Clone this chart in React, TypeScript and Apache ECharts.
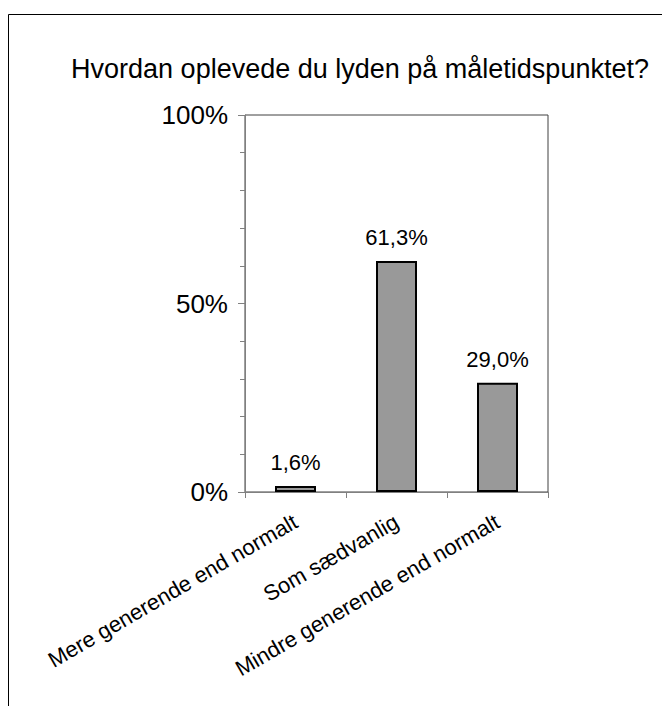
import React, { useEffect, useRef } from "react";
import * as echarts from "echarts";

const titleText = "Hvordan oplevede du lyden på måletidspunktet?";
const categories = ["Mere generende end normalt", "Som sædvanlig", "Mindre generende end normalt"];
const values = [1.6, 61.3, 29.0];
const yTicks = [0, 50, 100];

const FONT = "'Liberation Sans', Arial, sans-serif";

export default function App() {
  const ref = useRef<HTMLDivElement>(null);
  useEffect(() => {
    if (!ref.current) return;
    const chart = echarts.init(ref.current, null, { renderer: "svg" });
    chart.setOption({
      animation: false,
      backgroundColor: "#ffffff",
      textStyle: { fontFamily: FONT },
      title: {
        text: titleText,
        left: 355,
        top: 50,
        textAlign: "center",
        textStyle: { fontFamily: FONT, fontSize: 27, fontWeight: "normal", color: "#000" },
      },
      graphic: [
        {
          type: "rect",
          shape: { x: 8.5, y: 14.5, width: 800, height: 900 },
          style: { fill: "none", stroke: "#000", lineWidth: 1 },
          silent: true,
        },
      ],
      grid: {
        left: 245,
        right: 114,
        top: 115,
        bottom: 214,
        show: true,
        borderColor: "#404040",
        borderWidth: 1,
        backgroundColor: "transparent",
      },
      xAxis: {
        type: "category",
        data: categories,
        axisLine: { lineStyle: { color: "#808080", width: 1 } },
        axisTick: { show: true, length: 6, lineStyle: { color: "#808080" } },
        axisLabel: {
          interval: 0,
          rotate: 30,
          margin: 28,
          fontSize: 22,
          fontFamily: FONT,
          color: "#000",
        },
      },
      yAxis: {
        type: "value",
        min: yTicks[0],
        max: yTicks[yTicks.length - 1],
        interval: 50,
        axisLine: { show: true, lineStyle: { color: "#808080", width: 1 } },
        axisTick: { show: true, length: 7, lineStyle: { color: "#808080" } },
        minorTick: { show: true, splitNumber: 5, length: 5, lineStyle: { color: "#808080" } },
        splitLine: { show: false },
        axisLabel: {
          formatter: "{value}%",
          margin: 17,
          fontSize: 26,
          fontFamily: FONT,
          color: "#000",
        },
      },
      series: [
        {
          type: "bar",
          data: values,
          barWidth: 41,
          itemStyle: { color: "#999999", borderColor: "#000000", borderWidth: 2 },
          label: {
            show: true,
            position: "top",
            distance: 12,
            fontSize: 22,
            fontFamily: FONT,
            color: "#000",
            formatter: (p: any) => p.value.toFixed(1).replace(".", ",") + "%",
          },
        },
      ],
    });
    return () => chart.dispose();
  }, []);
  return (
    <div
      ref={ref}
      style={{ position: "absolute", left: 0, top: 0, width: 662, height: 706 }}
    />
  );
}
